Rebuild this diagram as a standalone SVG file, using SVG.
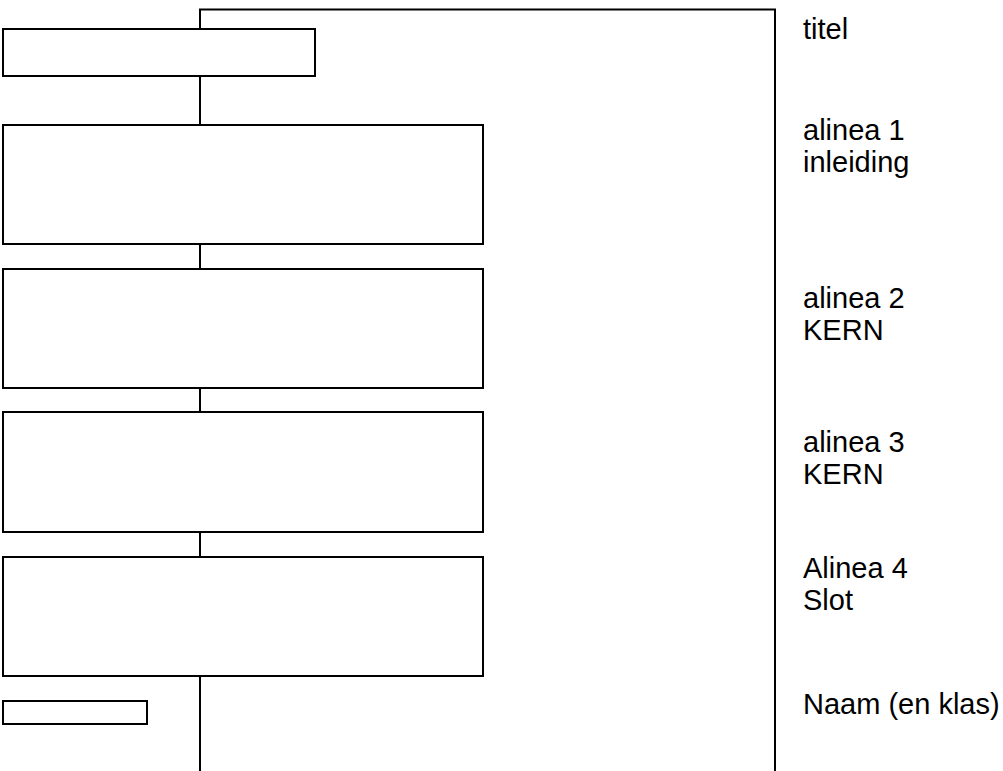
<svg xmlns="http://www.w3.org/2000/svg" width="1003" height="771" viewBox="0 0 1003 771">
<style>
.box{fill:#fff;stroke:#000;stroke-width:2}
.ln{fill:none;stroke:#000;stroke-width:2}
.lbl{font-family:"Liberation Sans",Arial,sans-serif;font-size:29px;fill:#000}
</style>
<rect width="1003" height="771" fill="#fff"/>
<g id="connectors">
<path class="ln" d="M200,771 V9.5 H775 V771"/>
</g>
<g id="titel"><rect class="box" x="3" y="29" width="312" height="47"/></g>
<g id="alinea1"><rect class="box" x="3" y="125" width="480" height="119"/></g>
<g id="alinea2"><rect class="box" x="3" y="269" width="480" height="119"/></g>
<g id="alinea3"><rect class="box" x="3" y="412" width="480" height="120"/></g>
<g id="alinea4"><rect class="box" x="3" y="557" width="480" height="119"/></g>
<g id="naam"><rect class="box" x="3" y="701" width="144" height="23"/></g>
<g id="labels">
<text class="lbl" x="803" y="39">titel</text>
<text class="lbl" x="803" y="140">alinea 1</text>
<text class="lbl" x="803" y="172">inleiding</text>
<text class="lbl" x="803" y="308">alinea 2</text>
<text class="lbl" x="803" y="340">KERN</text>
<text class="lbl" x="803" y="452">alinea 3</text>
<text class="lbl" x="803" y="484">KERN</text>
<text class="lbl" x="803" y="578">Alinea 4</text>
<text class="lbl" x="803" y="610">Slot</text>
<text class="lbl" x="803" y="714">Naam (en klas)</text>
</g>
</svg>
